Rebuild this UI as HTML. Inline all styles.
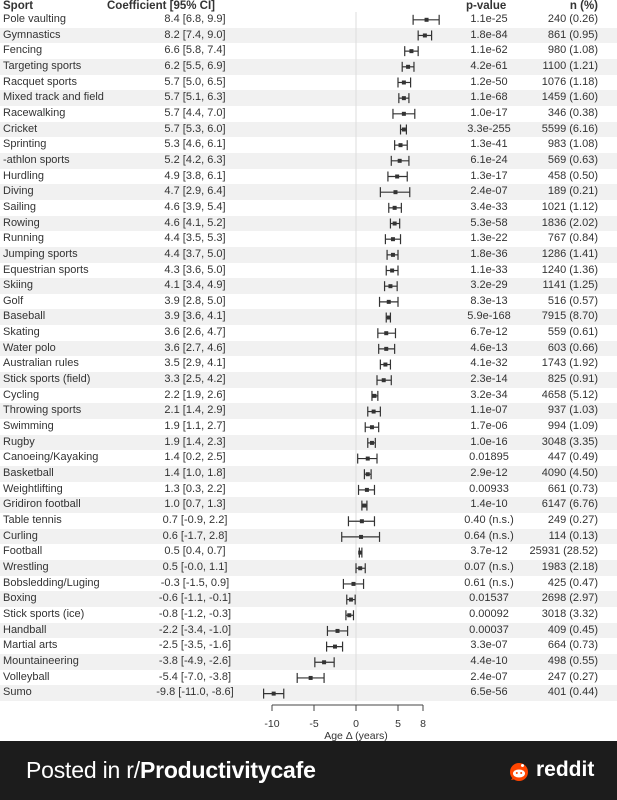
<!DOCTYPE html>
<html><head><meta charset="utf-8"><style>
body{margin:0;width:617px;height:800px;background:#fff;position:relative;overflow:hidden;font-family:"Liberation Sans",sans-serif;color:#222}
.hdr{position:absolute;top:1px;line-height:11px;font-size:11.5px;font-weight:bold;color:#333;z-index:2}
#rows{position:absolute;left:0;top:12px;width:617px}
.r{position:relative;height:15.67px;font-size:11px;line-height:15.67px;color:#333}
.r:nth-child(even){background:#f1f1f1}
.r span{position:absolute;top:0;white-space:nowrap}
.s{left:3px}.c{left:150px;width:90px;text-align:center}.p{left:448px;width:82px;text-align:center}.n{right:19px}
#chart{position:absolute;left:0;top:0}
.banner{position:absolute;left:0;top:741px;width:617px;height:59px;background:#1c1c1c;color:#fff}
</style></head><body>
<div id="rows">
<div class="r"><span class="s">Pole vaulting</span><span class="c">8.4 [6.8, 9.9]</span><span class="p">1.1e-25</span><span class="n">240 (0.26)</span></div>
<div class="r"><span class="s">Gymnastics</span><span class="c">8.2 [7.4, 9.0]</span><span class="p">1.8e-84</span><span class="n">861 (0.95)</span></div>
<div class="r"><span class="s">Fencing</span><span class="c">6.6 [5.8, 7.4]</span><span class="p">1.1e-62</span><span class="n">980 (1.08)</span></div>
<div class="r"><span class="s">Targeting sports</span><span class="c">6.2 [5.5, 6.9]</span><span class="p">4.2e-61</span><span class="n">1100 (1.21)</span></div>
<div class="r"><span class="s">Racquet sports</span><span class="c">5.7 [5.0, 6.5]</span><span class="p">1.2e-50</span><span class="n">1076 (1.18)</span></div>
<div class="r"><span class="s">Mixed track and field</span><span class="c">5.7 [5.1, 6.3]</span><span class="p">1.1e-68</span><span class="n">1459 (1.60)</span></div>
<div class="r"><span class="s">Racewalking</span><span class="c">5.7 [4.4, 7.0]</span><span class="p">1.0e-17</span><span class="n">346 (0.38)</span></div>
<div class="r"><span class="s">Cricket</span><span class="c">5.7 [5.3, 6.0]</span><span class="p">3.3e-255</span><span class="n">5599 (6.16)</span></div>
<div class="r"><span class="s">Sprinting</span><span class="c">5.3 [4.6, 6.1]</span><span class="p">1.3e-41</span><span class="n">983 (1.08)</span></div>
<div class="r"><span class="s">-athlon sports</span><span class="c">5.2 [4.2, 6.3]</span><span class="p">6.1e-24</span><span class="n">569 (0.63)</span></div>
<div class="r"><span class="s">Hurdling</span><span class="c">4.9 [3.8, 6.1]</span><span class="p">1.3e-17</span><span class="n">458 (0.50)</span></div>
<div class="r"><span class="s">Diving</span><span class="c">4.7 [2.9, 6.4]</span><span class="p">2.4e-07</span><span class="n">189 (0.21)</span></div>
<div class="r"><span class="s">Sailing</span><span class="c">4.6 [3.9, 5.4]</span><span class="p">3.4e-33</span><span class="n">1021 (1.12)</span></div>
<div class="r"><span class="s">Rowing</span><span class="c">4.6 [4.1, 5.2]</span><span class="p">5.3e-58</span><span class="n">1836 (2.02)</span></div>
<div class="r"><span class="s">Running</span><span class="c">4.4 [3.5, 5.3]</span><span class="p">1.3e-22</span><span class="n">767 (0.84)</span></div>
<div class="r"><span class="s">Jumping sports</span><span class="c">4.4 [3.7, 5.0]</span><span class="p">1.8e-36</span><span class="n">1286 (1.41)</span></div>
<div class="r"><span class="s">Equestrian sports</span><span class="c">4.3 [3.6, 5.0]</span><span class="p">1.1e-33</span><span class="n">1240 (1.36)</span></div>
<div class="r"><span class="s">Skiing</span><span class="c">4.1 [3.4, 4.9]</span><span class="p">3.2e-29</span><span class="n">1141 (1.25)</span></div>
<div class="r"><span class="s">Golf</span><span class="c">3.9 [2.8, 5.0]</span><span class="p">8.3e-13</span><span class="n">516 (0.57)</span></div>
<div class="r"><span class="s">Baseball</span><span class="c">3.9 [3.6, 4.1]</span><span class="p">5.9e-168</span><span class="n">7915 (8.70)</span></div>
<div class="r"><span class="s">Skating</span><span class="c">3.6 [2.6, 4.7]</span><span class="p">6.7e-12</span><span class="n">559 (0.61)</span></div>
<div class="r"><span class="s">Water polo</span><span class="c">3.6 [2.7, 4.6]</span><span class="p">4.6e-13</span><span class="n">603 (0.66)</span></div>
<div class="r"><span class="s">Australian rules</span><span class="c">3.5 [2.9, 4.1]</span><span class="p">4.1e-32</span><span class="n">1743 (1.92)</span></div>
<div class="r"><span class="s">Stick sports (field)</span><span class="c">3.3 [2.5, 4.2]</span><span class="p">2.3e-14</span><span class="n">825 (0.91)</span></div>
<div class="r"><span class="s">Cycling</span><span class="c">2.2 [1.9, 2.6]</span><span class="p">3.2e-34</span><span class="n">4658 (5.12)</span></div>
<div class="r"><span class="s">Throwing sports</span><span class="c">2.1 [1.4, 2.9]</span><span class="p">1.1e-07</span><span class="n">937 (1.03)</span></div>
<div class="r"><span class="s">Swimming</span><span class="c">1.9 [1.1, 2.7]</span><span class="p">1.7e-06</span><span class="n">994 (1.09)</span></div>
<div class="r"><span class="s">Rugby</span><span class="c">1.9 [1.4, 2.3]</span><span class="p">1.0e-16</span><span class="n">3048 (3.35)</span></div>
<div class="r"><span class="s">Canoeing/Kayaking</span><span class="c">1.4 [0.2, 2.5]</span><span class="p">0.01895</span><span class="n">447 (0.49)</span></div>
<div class="r"><span class="s">Basketball</span><span class="c">1.4 [1.0, 1.8]</span><span class="p">2.9e-12</span><span class="n">4090 (4.50)</span></div>
<div class="r"><span class="s">Weightlifting</span><span class="c">1.3 [0.3, 2.2]</span><span class="p">0.00933</span><span class="n">661 (0.73)</span></div>
<div class="r"><span class="s">Gridiron football</span><span class="c">1.0 [0.7, 1.3]</span><span class="p">1.4e-10</span><span class="n">6147 (6.76)</span></div>
<div class="r"><span class="s">Table tennis</span><span class="c">0.7 [-0.9, 2.2]</span><span class="p">0.40 (n.s.)</span><span class="n">249 (0.27)</span></div>
<div class="r"><span class="s">Curling</span><span class="c">0.6 [-1.7, 2.8]</span><span class="p">0.64 (n.s.)</span><span class="n">114 (0.13)</span></div>
<div class="r"><span class="s">Football</span><span class="c">0.5 [0.4, 0.7]</span><span class="p">3.7e-12</span><span class="n">25931 (28.52)</span></div>
<div class="r"><span class="s">Wrestling</span><span class="c">0.5 [-0.0, 1.1]</span><span class="p">0.07 (n.s.)</span><span class="n">1983 (2.18)</span></div>
<div class="r"><span class="s">Bobsledding/Luging</span><span class="c">-0.3 [-1.5, 0.9]</span><span class="p">0.61 (n.s.)</span><span class="n">425 (0.47)</span></div>
<div class="r"><span class="s">Boxing</span><span class="c">-0.6 [-1.1, -0.1]</span><span class="p">0.01537</span><span class="n">2698 (2.97)</span></div>
<div class="r"><span class="s">Stick sports (ice)</span><span class="c">-0.8 [-1.2, -0.3]</span><span class="p">0.00092</span><span class="n">3018 (3.32)</span></div>
<div class="r"><span class="s">Handball</span><span class="c">-2.2 [-3.4, -1.0]</span><span class="p">0.00037</span><span class="n">409 (0.45)</span></div>
<div class="r"><span class="s">Martial arts</span><span class="c">-2.5 [-3.5, -1.6]</span><span class="p">3.3e-07</span><span class="n">664 (0.73)</span></div>
<div class="r"><span class="s">Mountaineering</span><span class="c">-3.8 [-4.9, -2.6]</span><span class="p">4.4e-10</span><span class="n">498 (0.55)</span></div>
<div class="r"><span class="s">Volleyball</span><span class="c">-5.4 [-7.0, -3.8]</span><span class="p">2.4e-07</span><span class="n">247 (0.27)</span></div>
<div class="r"><span class="s">Sumo</span><span class="c">-9.8 [-11.0, -8.6]</span><span class="p">6.5e-56</span><span class="n">401 (0.44)</span></div>
</div>
<svg id="chart" width="617" height="741" font-family="Liberation Sans, sans-serif">
<g stroke="#444" stroke-width="1" fill="#333" font-size="10.5" text-anchor="middle">
<line x1="272" y1="705" x2="423" y2="705"/>
<line x1="272" y1="705" x2="272" y2="711"/><line x1="314" y1="705" x2="314" y2="711"/><line x1="356" y1="705" x2="356" y2="711"/><line x1="398" y1="705" x2="398" y2="711"/><line x1="423" y1="705" x2="423" y2="711"/>
<text x="272" y="727" stroke="none">-10</text><text x="314" y="727" stroke="none">-5</text><text x="356" y="727" stroke="none">0</text><text x="398" y="727" stroke="none">5</text><text x="423" y="727" stroke="none">8</text>
<text x="356" y="739" stroke="none">Age Δ (years)</text>
</g>
<g id="bars"></g>
</svg>
<div class="hdr" style="left:3px">Sport</div>
<div class="hdr" style="left:107px">Coefficient [95% CI]</div>
<div class="hdr" style="left:466px">p-value</div>
<div class="hdr" style="right:19px">n (%)</div>
<div class="banner">
<div style="position:absolute;left:26px;top:16px;font-size:23px;letter-spacing:-0.2px">Posted in r/<b>Productivitycafe</b></div>
<svg style="position:absolute;left:508px;top:20px" width="22" height="22" viewBox="0 0 22 22"><circle cx="11" cy="11" r="9" fill="#ff4500"/><path d="M3 19 L6 15 L8 18Z" fill="#ff4500"/><ellipse cx="11" cy="12.5" rx="6" ry="4" fill="#fff"/><circle cx="8.8" cy="12" r="1" fill="#ff4500"/><circle cx="13.2" cy="12" r="1" fill="#ff4500"/><circle cx="14.5" cy="4.5" r="1.5" fill="#fff"/></svg>
<div style="position:absolute;left:536px;top:17px;font-size:21px;font-weight:bold">reddit</div>
</div>
<script>
var g=document.getElementById('bars'),h='';
h+='<line x1="356" y1="12" x2="356" y2="701" stroke="#ddd" stroke-width="1"/>';
var X=function(v){return 356+v*8.4};
document.querySelectorAll('#rows .c').forEach(function(el,i){
 var m=el.textContent.match(/(-?[\d.]+) \[(-?[\d.]+), (-?[\d.]+)\]/);
 var c=+m[1],lo=+m[2],hi=+m[3],y=12+i*15.67+7.8;
 h+='<g stroke="#333" stroke-width="1.2"><line x1="'+X(lo)+'" y1="'+y+'" x2="'+X(hi)+'" y2="'+y+'"/><line x1="'+X(lo)+'" y1="'+(y-5)+'" x2="'+X(lo)+'" y2="'+(y+5)+'"/><line x1="'+X(hi)+'" y1="'+(y-5)+'" x2="'+X(hi)+'" y2="'+(y+5)+'"/></g><rect x="'+(X(c)-2)+'" y="'+(y-2)+'" width="4" height="4" fill="#333"/>';
});
g.innerHTML=h;
</script>
</body></html>
